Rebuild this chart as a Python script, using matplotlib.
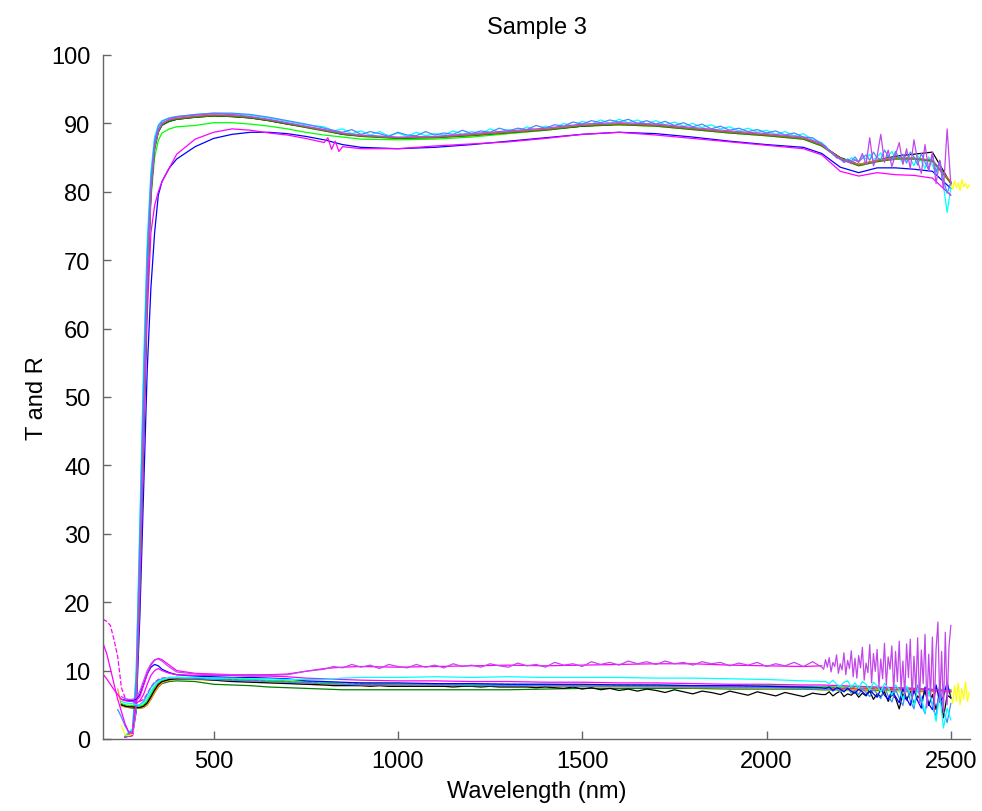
import numpy as np
import matplotlib
matplotlib.use("Agg")
import matplotlib.pyplot as plt

plt.rcParams['font.family'] = ['Liberation Sans', 'DejaVu Sans']

n = np.nan

# ---------------- wavelength grids ----------------
wl_t = [260, 280, 290, 300, 310, 320, 330, 340, 350, 360, 380, 400, 450, 500, 550,
        600, 650, 700, 750, 800, 850, 900, 1000, 1100, 1200, 1300, 1400, 1500, 1600,
        1700, 1800, 1900, 2000, 2100, 2150, 2200, 2250, 2300, 2350, 2400, 2450, 2500]
wl_tm = [260, 280, 290, 300, 310, 320, 330, 340, 350, 360, 380, 400, 450, 500, 550,
         600, 650, 700, 750, 800, 810, 820, 830, 840, 850, 900, 1000, 1100, 1200, 1300,
         1400, 1500, 1600, 1700, 1800, 1900, 2000, 2100, 2150, 2200, 2250, 2300, 2350,
         2400, 2450, 2500]
wl_r = [200, 210, 220, 230, 240, 250, 260, 270, 280, 290, 300, 310, 320, 330, 340,
        350, 360, 380, 400, 450, 500, 550, 600, 650, 700, 750, 800, 850, 900, 1000,
        1100, 1200, 1300, 1400, 1500, 1600, 1700, 1800, 1900, 2000, 2100, 2150, 2200,
        2250, 2300, 2350, 2400, 2450, 2500]
mid_wl = list(range(800, 2151, 25))          # 55 samples
tail_wl = list(range(2160, 2501, 10))        # 35 samples
fine_wl = list(range(2155, 2501, 5))         # 70 samples
ext_wl = list(range(2500, 2551, 5))          # 11 samples

# ---------------- transmission ----------------
T_blue = [0.3, 0.5, 4, 18, 36, 54, 66, 74, 79.5, 81.5, 83.5, 84.8, 86.6, 87.8, 88.4,
          88.7, 88.7, 88.5, 88.1, 87.6, 86.9, 86.5, 86.3, 86.5, 86.9, 87.4, 87.9, 88.4,
          88.7, 88.5, 88.0, 87.4, 86.9, 86.5, 85.6, 83.6, 82.8, 83.5, 83.5, 83.3, 83.0, 80.5]
T_green = [0.3, 0.8, 6, 24, 45, 66, 79, 85, 87.5, 88.6, 89.2, 89.5, 89.7, 90.1, 90.1,
           89.9, 89.6, 89.2, 88.7, 88.3, 88.0, 87.7, 87.6, 87.7, 88.0, 88.5, 89.0, 89.6,
           89.8, 89.6, 89.1, 88.6, 88.2, 87.7, 86.7, 84.8, 83.9, 84.5, 84.8, 84.8, 84.4, 81.3]
T_red = [0.3, 0.8, 6.5, 25, 46, 67, 80.5, 86.8, 89.1, 90.0, 90.5, 90.7, 91.0, 91.2, 91.1,
         90.9, 90.5, 90.0, 89.5, 89.0, 88.5, 88.2, 87.9, 88.0, 88.3, 88.7, 89.1, 89.7,
         89.9, 89.7, 89.2, 88.7, 88.3, 87.8, 86.8, 84.9, 83.9, 84.5, 84.9, 84.9, 84.6, 81.4]
T_magenta = [0.3, 0.5, 5, 21, 42, 62, 74, 78, 80, 81.5, 83.5, 85.5, 87.7, 88.7, 89.2,
             89.0, 88.6, 88.3, 87.8, 87.2, 87.9, 86.2, 87.4, 85.9, 86.6, 86.3, 86.3, 86.7,
             87.0, 87.3, 87.8, 88.4, 88.7, 88.3, 87.8, 87.3, 86.8, 86.3, 85.4, 83.0, 82.3,
             82.8, 82.5, 82.4, 82.0, 79.5]
T_yellow = [0.3, 0.8, 6, 24, 45, 66, 80, 86.4, 88.8, 89.8, 90.4, 90.6, 90.9, 91.1, 91.0,
            90.8, 90.4, 89.9, 89.4, 88.9, 88.4, 88.1, 87.8, 87.9, 88.2, 88.6, 89.0, 89.6,
            89.8, 89.6, 89.1, 88.6, 88.2, 87.7, 86.7, 84.8, 83.8, 84.4, 84.8, 84.8, 84.5, 81.2]
T_yellow_ext = [81.0, 80.4, 81.6, 80.6, 81.3, 80.2, 81.8, 80.7, 81.2, 80.5, 81.0]
T_black = [0.3, 0.8, 6, 24, 45, 66, 80, 86.5, 88.8, 89.8, 90.3, 90.6, 90.9, 91.1, 91.0,
           90.8, 90.4, 89.9, 89.5, 89.0, 88.4, 88.2, 87.9, 88.0, 88.3, 88.7, 89.1, 89.6,
           89.9, 89.7, 89.2, 88.7, 88.3, 87.8, 86.8, 85.0, 84.0, 84.6, 85.2, 85.5, 85.8, 81.2]
T_orange = [0.3, 0.9, 7, 26, 47, 67, 80.5, 86.8, 89.0, 89.9, 90.5, 90.7, 91.0, 91.2, 91.1,
            90.9, 90.5, 90.0, 89.5, 89.0, 88.5, 88.2, 87.9, 88.0, 88.3, 88.7, 89.2, 89.7,
            89.9, 89.7, 89.2, 88.7, 88.3, 87.8, 86.8, 84.9, 84.0, 84.6, 85.0, 84.9, 84.6, 81.5]
T_dkgreen = [0.3, 0.7, 5.5, 23, 44, 65, 79.5, 86.2, 88.7, 89.7, 90.3, 90.6, 90.9, 91.1, 91.0,
             90.8, 90.4, 89.9, 89.4, 88.9, 88.4, 88.1, 87.8, 87.9, 88.2, 88.6, 89.0, 89.6,
             89.8, 89.6, 89.1, 88.6, 88.2, 87.7, 86.7, 84.8, 83.8, 84.4, 84.8, 84.8, 84.5, 81.3]
T_brown = [0.3, 0.8, 6.2, 24.5, 45.5, 66.5, 80.2, 86.6, 88.9, 89.9, 90.5, 90.7, 91.0, 91.2, 91.1,
           90.9, 90.5, 90.0, 89.5, 89.0, 88.5, 88.2, 87.9, 88.0, 88.3, 88.7, 89.1, 89.7,
           89.9, 89.7, 89.2, 88.7, 88.3, 87.8, 86.8, 84.9, 83.9, 84.5, 84.9, 84.9, 84.6, 81.4]
# noisy transmission: start (260-750 on wl_t) + mid (800-2150) + tail (2160-2500)
T_cyan = [0.5, 1.5, 10, 32, 55, 73, 83, 88, 89.8, 90.4, 90.8, 91.0, 91.3, 91.5, 91.4,
          91.2, 90.8, 90.3, 89.8]
T_cyan_mid = [89.5, 88.9, 89.2, 88.5, 88.9, 88.3, 88.8, 88.2, 88.6, 88.1,
              88.7, 88.2, 88.5, 88.3, 88.9, 88.4, 88.8, 88.5, 89.2, 88.7,
              89.1, 88.8, 89.5, 89.0, 89.6, 89.3, 90.0, 89.6, 90.3, 89.9,
              90.5, 90.0, 90.6, 90.1, 90.5, 89.9, 90.4, 89.8, 90.2, 89.6,
              90.0, 89.4, 89.8, 89.2, 89.5, 88.9, 89.3, 88.7, 89.0, 88.4,
              88.8, 88.2, 88.5, 87.6, 87.2]
T_cyan_tail = [86.6, 86.1, 85.4, 85.2, 84.7, 84.9, 84.3, 85.0, 84.6, 84.4,
               85.3, 84.8, 85.5, 84.7, 85.1, 85.7, 84.6, 85.2, 85.9, 84.8,
               85.0, 84.2, 85.7, 84.9, 83.8, 85.3, 84.5, 83.4, 85.1, 83.9,
               82.6, 84.4, 80.9, 77.0, 80.6]
T_lblue = [0.4, 1.2, 9, 30, 52, 71, 82, 87.5, 89.6, 90.3, 90.8, 91.0, 91.3, 91.5, 91.5,
           91.3, 90.9, 90.4, 89.9]
T_lblue_mid = [89.3, 89.0, 88.7, 89.1, 88.4, 88.8, 88.5, 88.1, 88.7, 88.3,
               88.2, 88.8, 88.3, 88.6, 88.4, 89.0, 88.5, 88.9, 88.7, 89.3,
               88.9, 89.3, 89.1, 89.7, 89.3, 89.8, 89.6, 90.2, 89.9, 90.4,
               90.1, 90.5, 90.2, 90.6, 90.0, 90.4, 89.9, 90.3, 89.7, 90.1,
               89.5, 89.9, 89.2, 89.6, 89.0, 89.3, 88.8, 89.1, 88.6, 88.9,
               88.3, 88.6, 88.0, 87.9, 87.0]
T_lblue_tail = [86.7, 86.0, 85.6, 85.0, 84.9, 84.4, 84.8, 84.5, 85.1, 84.4,
                84.9, 85.4, 84.6, 85.8, 85.0, 84.7, 86.1, 85.2, 84.6, 85.9,
                84.9, 85.5, 84.2, 85.8, 85.1, 83.9, 85.6, 84.3, 83.2, 85.4,
                82.9, 84.6, 81.8, 79.8, 81.4]
T_purple = [0.3, 0.7, 6, 24, 45, 66, 80, 86.5, 89.0, 90.0, 90.6, 90.9, 91.2, 91.4, 91.3,
            91.0, 90.6, 90.1, 89.6, 89.1, 88.6, 88.3, 88.0, 88.1, 88.5, 88.9, 89.3, 89.9,
            90.1, 89.9, 89.4, 88.9, 88.5, 88.0, 87.0]
T_purple_tail = [86.4, 85.9, 85.6, 85.0, 84.8, 84.3, 84.5, 84.1, 84.7, 84.3,
                 85.6, 84.0, 87.9, 83.8, 85.2, 88.4, 84.3, 86.1, 83.7, 85.4,
                 87.2, 84.0, 86.3, 83.4, 87.6, 84.5, 82.7, 86.9, 83.1, 85.8,
                 81.2, 84.6, 80.4, 89.2, 81.0]

# ---------------- reflection ----------------
R_dashed = [17.5, 17.2, 16.6, 14.5, 12.0, 7.5, 6.0, 5.6, 5.4, 5.4, 5.5, 5.8, 6.6, 7.6, 8.3,
            8.7, 8.9, 9.0, 9.0, 8.9, 8.8, 8.7, 8.6, 8.5, 8.4, 8.3, 8.2, 8.2, 8.1, 8.1,
            8.0, 8.0, 8.0, 7.9, 7.9, 7.9, 7.8, 7.8, 7.8, 7.7, 7.6, 7.6, 7.5, 7.5, 7.4,
            7.4, 7.3, 7.2, 7.1]
R_magenta = [14.0, 12.5, 10.3, 8.0, 5.8, 4.0, 2.2, 1.0, 0.8, 5.2, 5.6, 6.5, 8.0, 9.3, 10.0,
             10.3, 10.0, 9.6, 9.4, 9.3, 9.3, 9.3, 9.2, 9.2, 9.1, 8.9, 8.8, 8.7, 8.6, 8.5,
             8.5, 8.4, 8.4, 8.3, 8.3, 8.2, 8.2, 8.1, 8.0, 8.0, 7.9, 7.9, 7.8, 7.7, 7.6,
             7.5, 7.4, 7.2, 7.0]
R_magenta2 = [9.5, 8.8, 8.0, 7.2, 6.5, 5.8, 5.6, 5.5, 5.5, 5.6, 6.2, 7.8, 9.5, 10.8, 11.5,
              11.8, 11.6, 10.8, 10.0, 9.6, 9.5, 9.4, 9.4, 9.4, 9.5, 9.9, 10.3, 10.5, 10.6, 10.5,
              10.6, 10.7, 10.8, 10.7, 10.8, 10.9, 11.0, 11.0, 10.8, 10.7, 10.6, 10.7, n,
              n, n, n, n, n, n]
R_red = [n, n, n, n, n, 5.0, 4.8, 4.7, 4.7, 4.6, 4.6, 4.7, 5.2, 6.0, 7.0, 7.8, 8.3, 8.7,
         8.8, 8.8, 8.7, 8.6, 8.5, 8.4, 8.3, 8.2, 8.1, 8.0, 8.0, 7.9, 7.9, 7.9, 7.8, 7.8,
         7.8, 7.7, 7.7, 7.6, 7.6, 7.5, 7.5, 7.4, 7.4, 7.3, 7.3, 7.2, 7.2, 7.1, 7.0]
R_orange = [n, n, n, n, 7.3, 4.8, 4.7, 4.6, 4.6, 4.6, 4.5, 4.6, 5.0, 5.8, 6.8, 7.6, 8.2,
            8.6, 8.7, 8.7, 8.6, 8.5, 8.4, 8.3, 8.2, 8.0, 7.9, 7.9, 7.8, 7.8, 7.8, 7.7, 7.7,
            7.7, 7.6, 7.6, 7.6, 7.5, 7.5, 7.4, 7.4, 7.3, 7.3, 7.2, 7.2, 7.1, 7.1, 7.0, 6.9]
R_green = [n, n, n, n, n, 5.2, 5.0, 4.9, 4.9, 4.8, 4.8, 5.0, 5.6, 6.6, 7.6, 8.3, 8.6, 8.9,
           9.0, 9.0, 8.9, 8.8, 8.7, 8.6, 8.5, 8.4, 8.3, 8.2, 8.2, 8.1, 8.1, 8.0, 8.0, 8.0,
           7.9, 7.9, 7.9, 7.8, 7.8, 7.8, 7.7, 7.7, 7.6, 7.6, 7.5, 7.5, 7.4, 7.3, 7.2]
R_dkgreen = [n, n, n, n, n, 5.0, 4.7, 4.6, 4.5, 4.5, 4.5, 4.6, 5.0, 5.8, 6.8, 7.6, 8.1,
             8.4, 8.5, 8.4, 8.0, 7.9, 7.8, 7.6, 7.5, 7.4, 7.3, 7.2, 7.2, 7.2, 7.2, 7.2, 7.2,
             7.3, 7.4, 7.4, 7.4, 7.4, 7.3, 7.3, 7.3, 7.2, 7.2, 7.2, 7.1, 7.1, 7.0, 7.0, 6.9]
R_yellow = [n, n, n, n, n, 2.0, 0.6, 0.5, 0.7, 4.6, 4.7, 4.8, 5.2, 6.0, 7.0, 7.8, 8.3, 8.6,
            8.7, 8.7, 8.6, 8.5, 8.4, 8.3, 8.2, 8.1, 8.0, 8.0, 7.9, 7.9, 7.8, 7.8, 7.8, 7.7,
            7.7, 7.6, 7.6, 7.5, 7.5, 7.4, 7.3, 7.2, 7.1, 7.0, 6.9, 6.9, 6.8, 6.7, 6.6]
R_yellow_ext = [6.5, 5.2, 7.8, 5.6, 8.2, 5.0, 7.4, 5.8, 8.4, 5.5, 6.8]
# noisy reflection
R_purple = [n, n, n, n, n, 6.2, 5.9, 5.8, 5.8, 6.0, 7.0, 8.5, 10.0, 11.0, 11.6, 11.7, 11.4,
            10.5, 9.8, 9.5, 9.4, 9.4, 9.3, 9.3, 9.4, 9.9]
R_purple_mid = [10.2, 10.6, 10.4, 10.9, 10.5, 10.8, 10.3, 10.9, 10.6, 10.4,
                10.9, 10.5, 10.8, 10.4, 11.0, 10.6, 10.8, 10.5, 11.0, 10.7,
                10.5, 11.1, 10.7, 10.9, 10.5, 11.2, 10.8, 11.0, 10.6, 11.3,
                10.9, 11.2, 10.8, 11.4, 11.0, 11.3, 10.9, 11.4, 11.0, 11.2,
                10.8, 11.3, 11.0, 11.2, 10.7, 11.1, 10.8, 11.2, 10.6, 11.0,
                10.7, 11.2, 10.6, 11.3, 10.5]
R_purple_tail = [10.2, 11.6, 10.5, 11.9, 9.8, 11.2, 10.6, 12.3, 9.6, 11.0,
                 10.1, 12.6, 9.4, 11.5, 10.3, 12.9, 9.1, 11.8, 8.9, 12.2,
                 10.4, 13.4, 8.6, 11.1, 9.7, 13.8, 8.2, 12.5, 9.9, 13.1,
                 7.6, 11.7, 8.8, 14.0, 7.9, 12.0, 10.2, 13.6, 6.9, 12.8,
                 8.4, 14.3, 7.2, 11.4, 6.4, 13.9, 9.0, 14.6, 5.8, 12.1,
                 7.0, 14.8, 5.2, 13.0, 8.1, 15.3, 4.6, 12.4, 6.2, 14.9,
                 4.0, 13.2, 17.1, 5.3, 12.8, 3.9, 15.6, 5.0, 13.5, 16.6]
R_cyan = [n, n, n, n, n, 5.5, 5.3, 5.2, 5.2, 5.0, 5.0, 5.3, 6.0, 7.0, 7.8, 8.4, 8.7, 9.0,
          9.0, 9.0, 8.9, 8.9, 8.8, 8.8, 8.7, 8.7, 8.7, 8.9, 9.0, 9.0, 9.1, 9.0, 9.1, 9.0,
          9.0, 9.0, 8.9, 8.9, 8.8, 8.7, 8.5, 8.4]
R_cyan_tail = [8.4, 8.1, 8.6, 8.0, 7.7, 8.3, 8.5, 7.6, 8.2, 7.4,
               8.4, 8.0, 7.1, 8.3, 7.8, 6.9, 8.1, 7.5, 6.4, 7.9,
               7.2, 5.8, 7.7, 6.6, 4.9, 7.4, 6.0, 3.8, 7.1, 5.2,
               2.6, 6.6, 1.6, 4.5, 2.8]
R_blue = [n, n, n, n, n, 5.8, 5.7, 5.6, 5.6, 5.8, 6.5, 8.0, 9.5, 10.5, 10.9, 10.7, 10.2,
          9.7, 9.4, 9.2, 9.1, 9.0, 9.0, 8.9, 8.8, 8.5, 8.4, 8.3, 8.2, 8.2, 8.1, 8.1, 8.0,
          8.0, 8.0, 7.9, 7.9, 7.8, 7.8, 7.7, 7.6, 7.5]
R_blue_tail = [7.4, 7.6, 7.1, 7.5, 7.3, 6.9, 7.4, 7.0, 6.7, 7.3,
               6.9, 6.4, 7.2, 6.6, 6.1, 7.3, 6.4, 5.8, 7.0, 6.2,
               5.3, 7.4, 5.9, 4.9, 7.1, 5.6, 4.5, 7.6, 5.1, 4.3,
               7.9, 5.4, 6.2, 8.3, 6.0]
R_lblue = [n, n, n, n, 4.3, 3.2, 1.9, 0.9, 1.2, 4.8, 5.0, 5.5, 6.5, 7.5, 8.2, 8.6, 8.8,
           8.9, 8.9, 8.8, 8.7, 8.6, 8.5, 8.4, 8.3, 8.2, 8.1, 8.0, 7.9, 7.9, 7.9, 7.8, 7.8,
           7.8, 7.7, 7.7, 7.6, 7.6, 7.5, 7.5, 7.4, 7.3]
R_lblue_tail = [7.2, 7.4, 7.0, 7.3, 6.9, 7.2, 7.5, 6.7, 7.1, 6.5,
                7.4, 6.8, 6.2, 7.3, 6.6, 5.9, 7.6, 6.3, 5.4, 7.2,
                6.0, 4.9, 7.7, 5.6, 4.4, 7.9, 5.1, 3.7, 7.4, 4.8,
                3.3, 8.1, 4.2, 2.4, 5.2]
R_black = [n, n, n, n, n, 5.0, 4.8, 4.7, 4.7, 4.6, 4.6, 4.8, 5.3, 6.2, 7.2, 8.0, 8.4, 8.7,
           8.8, 8.8, 8.6, 8.4, 8.3, 8.2, 8.1, 8.0]
R_black_mid = [7.9, 7.8, 7.8, 7.8, 7.8, 7.7, 7.8, 7.7, 7.7, 7.7,
               7.7, 7.7, 7.7, 7.7, 7.6, 7.7, 7.7, 7.6, 7.7, 7.6,
               7.6, 7.6, 7.6, 7.5, 7.6, 7.5, 7.4, 7.6, 7.3, 7.5,
               7.2, 7.4, 7.1, 7.3, 7.0, 7.3, 7.1, 6.8, 7.2, 6.9,
               6.6, 7.0, 6.8, 6.5, 7.0, 6.7, 6.4, 6.9, 6.6, 6.3,
               6.8, 6.5, 6.2, 6.7, 6.5]
R_black_tail = [6.5, 6.9, 6.3, 6.7, 7.0, 6.2, 6.6, 6.4, 6.9, 6.1,
                6.7, 6.3, 7.0, 5.8, 6.6, 6.2, 6.9, 5.5, 6.5, 6.0,
                4.4, 6.6, 5.7, 6.9, 5.1, 6.3, 5.6, 7.0, 4.9, 6.5,
                4.3, 6.8, 3.1, 6.4, 6.0]

# ---------------- colours ----------------
C_BLUE = (0.0, 0.0, 1.0)
C_GREEN = (0.0, 1.0, 0.0)
C_RED = (1.0, 0.0, 0.0)
C_CYAN = (0.0, 1.0, 1.0)
C_MAG = (1.0, 0.0, 1.0)
C_YEL = (1.0, 1.0, 0.0)
C_BLACK = (0.0, 0.0, 0.0)
C_ORANGE = (0.95, 0.6, 0.1)
C_PURPLE = (0.76, 0.28, 0.92)
C_LBLUE = (0.25, 0.55, 1.0)
C_DKGREEN = (0.0, 0.5, 0.0)
C_BROWN = (0.6, 0.42, 0.28)

series = [
    # transmission
    (wl_t, T_blue, C_BLUE, '-'),
    (wl_t, T_green, C_GREEN, '-'),
    (wl_t, T_red, C_RED, '-'),
    (wl_t[:19] + mid_wl + tail_wl, T_cyan + T_cyan_mid + T_cyan_tail, C_CYAN, '-'),
    (wl_tm, T_magenta, C_MAG, '-'),
    (wl_t, T_yellow, C_YEL, '-'),
    (ext_wl, T_yellow_ext, C_YEL, '-'),
    (wl_t, T_black, C_BLACK, '-'),
    (wl_t, T_orange, C_ORANGE, '-'),
    (wl_t, T_dkgreen, C_DKGREEN, '-'),
    (wl_t, T_brown, C_BROWN, '-'),
    (wl_t[:19] + mid_wl + tail_wl, T_lblue + T_lblue_mid + T_lblue_tail, C_LBLUE, '-'),
    (wl_t[:35] + tail_wl, T_purple + T_purple_tail, C_PURPLE, '-'),
    # reflection
    (wl_r, R_dashed, C_MAG, '--'),
    (wl_r, R_yellow, C_YEL, '-'),
    (ext_wl, R_yellow_ext, C_YEL, '-'),
    (wl_r, R_dkgreen, C_DKGREEN, '-'),
    (wl_r, R_red, C_RED, '-'),
    (wl_r, R_orange, C_ORANGE, '-'),
    (wl_r, R_green, C_GREEN, '-'),
    (wl_r[:26] + mid_wl + tail_wl, R_black + R_black_mid + R_black_tail, C_BLACK, '-'),
    (wl_r[:42] + tail_wl, R_lblue + R_lblue_tail, C_LBLUE, '-'),
    (wl_r[:42] + tail_wl, R_blue + R_blue_tail, C_BLUE, '-'),
    (wl_r, R_magenta, C_MAG, '-'),
    (wl_r[:42] + tail_wl, R_cyan + R_cyan_tail, C_CYAN, '-'),
    (wl_r, R_magenta2, C_MAG, '-'),
    (wl_r[:26] + mid_wl + fine_wl, R_purple + R_purple_mid + R_purple_tail, C_PURPLE, '-'),
]

fig = plt.figure(figsize=(9.82, 8.12), dpi=100)
ax = fig.add_axes([103 / 982, 72 / 812, 867 / 982, 684 / 812])

for x, y, c, ls in series:
    ax.plot(x, y, color=c, linestyle=ls, linewidth=0.9)

ax.set_xlim(200, 2552)
ax.set_ylim(0, 100)
ax.set_xticks([500, 1000, 1500, 2000, 2500])
ax.set_yticks(list(range(0, 101, 10)))

for s in ['top', 'right']:
    ax.spines[s].set_visible(False)
for s in ['left', 'bottom']:
    ax.spines[s].set_color('#666666')
    ax.spines[s].set_linewidth(1.0)

ax.tick_params(direction='in', length=6, width=1.0, color='#666666',
               labelsize=17, labelcolor='black')
ax.tick_params(axis='y', pad=9)
ax.tick_params(axis='x', pad=8)

ax.set_title('Sample 3', fontsize=17, pad=16)
ax.set_xlabel('Wavelength (nm)', fontsize=17, labelpad=6)
ax.set_ylabel('T and R', fontsize=17, labelpad=2)

fig.savefig('out.png', dpi=100)
